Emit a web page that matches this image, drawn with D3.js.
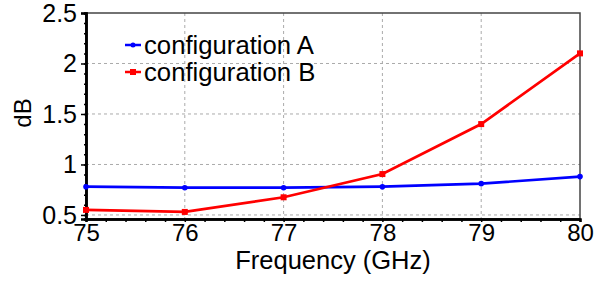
<!DOCTYPE html>
<html>
<head>
<meta charset="utf-8">
<script src="https://cdn.jsdelivr.net/npm/d3@7"></script>
<style>
  body { margin: 0; background: #fff; }
  text { font-family: "Liberation Sans", Arial, sans-serif; fill: #000; }
</style>
</head>
<body>
<div class="chart"></div>
<script>
const svgWidth = 611;
const svgHeight = 281;

const margin = { top: 13, right: 31, bottom: 62, left: 86 };
const width = svgWidth - margin.left - margin.right;
const height = svgHeight - margin.top - margin.bottom;

// data
const frequencies = [75, 76, 77, 78, 79, 80];
const configA = [0.78, 0.77, 0.77, 0.78, 0.81, 0.88];
const configB = [0.55, 0.53, 0.675, 0.905, 1.40, 2.10];
const seriesNames = ["configuration A", "configuration B"];
const seriesColors = ["#0000ff", "#ff0000"];
const yTicks = [0.5, 1, 1.5, 2, 2.5];
const yTickLabels = ["0.5", "1", "1.5", "2", "2.5"];

const svg = d3.select(".chart")
  .append("svg")
  .attr("width", svgWidth)
  .attr("height", svgHeight);

const chartGroup = svg.append("g")
  .attr("transform", `translate(${margin.left}, ${margin.top})`);

// scales
const xScale = d3.scaleLinear().domain([75, 80]).range([0, width]);
const yScale = d3.scaleLinear().domain([0.46, 2.5]).range([height, 0]);

// grid
chartGroup.append("g")
  .selectAll("line.vg")
  .data(frequencies.slice(1, -1))
  .enter().append("line")
  .attr("x1", d => xScale(d)).attr("x2", d => xScale(d))
  .attr("y1", 0).attr("y2", height)
  .attr("stroke", "#aaa").attr("stroke-width", 1)
  .attr("stroke-dasharray", "3,3");

chartGroup.append("g")
  .selectAll("line.hg")
  .data(yTicks.slice(0, -1))
  .enter().append("line")
  .attr("x1", 0).attr("x2", width)
  .attr("y1", d => yScale(d)).attr("y2", d => yScale(d))
  .attr("stroke", "#aaa").attr("stroke-width", 1)
  .attr("stroke-dasharray", "3,3");

// box
chartGroup.append("rect")
  .attr("width", width).attr("height", height)
  .attr("fill", "none").attr("stroke", "#444").attr("stroke-width", 1.5);

// axes
const xAxis = d3.axisBottom(xScale)
  .tickValues(frequencies).tickFormat(d3.format("d"))
  .tickSize(0).tickPadding(5);
const xMinor = d3.axisBottom(xScale)
  .tickValues(d3.range(75, 80.01, 0.2)).tickFormat("").tickSize(3);

const yAxis = d3.axisLeft(yScale)
  .tickValues(yTicks).tickFormat((d, i) => yTickLabels[i])
  .tickSize(5).tickPadding(4);
const yMinor = d3.axisLeft(yScale)
  .tickValues(d3.range(0.5, 2.51, 0.1)).tickFormat("").tickSize(2);

const xg = chartGroup.append("g")
  .attr("transform", `translate(0, ${height})`)
  .call(xMinor);
const xg2 = chartGroup.append("g")
  .attr("transform", `translate(0, ${height})`)
  .call(xAxis);
const yg = chartGroup.append("g").call(yMinor);
const yg2 = chartGroup.append("g").call(yAxis);

[xg, xg2, yg, yg2].forEach(g => {
  g.select(".domain").attr("stroke", "#000").attr("stroke-width", 2.5);
  g.selectAll(".tick line").attr("stroke", "#000").attr("stroke-width", 1.5);
});
xg2.selectAll(".tick text").attr("font-size", 24).style("font-family", "Liberation Sans, Arial, sans-serif");
yg2.selectAll(".tick text").attr("font-size", 25).attr("dy", "0.34em").style("font-family", "Liberation Sans, Arial, sans-serif");

// axis titles
svg.append("text")
  .attr("x", margin.left + width / 2)
  .attr("y", 269)
  .attr("text-anchor", "middle")
  .attr("font-size", 25.5)
  .text("Frequency (GHz)");

svg.append("text")
  .attr("transform", `translate(31, ${margin.top + height / 2 - 3}) rotate(-90)`)
  .attr("text-anchor", "middle")
  .attr("font-size", 24)
  .text("dB");

// lines
const line = d3.line()
  .x((d, i) => xScale(frequencies[i]))
  .y(d => yScale(d));

[configA, configB].forEach((series, s) => {
  chartGroup.append("path")
    .attr("d", line(series))
    .attr("fill", "none")
    .attr("stroke", seriesColors[s])
    .attr("stroke-width", 2.7);
});

chartGroup.selectAll("circle.a")
  .data(configA).enter().append("circle")
  .attr("cx", (d, i) => xScale(frequencies[i]))
  .attr("cy", d => yScale(d))
  .attr("r", 2.8).attr("fill", seriesColors[0]);

chartGroup.selectAll("rect.b")
  .data(configB).enter().append("rect")
  .attr("x", (d, i) => xScale(frequencies[i]) - 3)
  .attr("y", d => yScale(d) - 3)
  .attr("width", 6).attr("height", 6)
  .attr("fill", seriesColors[1]);

// legend
const legend = svg.append("g");
seriesNames.forEach((name, i) => {
  const ly = 45 + i * 27;
  legend.append("line")
    .attr("x1", 125).attr("x2", 141)
    .attr("y1", ly).attr("y2", ly)
    .attr("stroke", seriesColors[i]).attr("stroke-width", 2.5);
  if (i === 0) {
    legend.append("circle").attr("cx", 133).attr("cy", ly).attr("r", 2.5).attr("fill", seriesColors[i]);
  } else {
    legend.append("rect").attr("x", 130).attr("y", ly - 3).attr("width", 6).attr("height", 6).attr("fill", seriesColors[i]);
  }
  legend.append("text")
    .attr("x", 144).attr("y", ly + 8.5)
    .attr("font-size", 25.7)
    .text(name);
});
</script>
</body>
</html>
